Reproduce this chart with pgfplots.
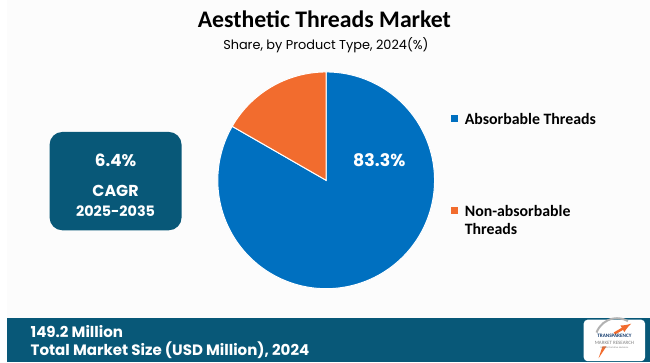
\documentclass[border=0pt]{standalone}
\usepackage{pgfplots}
\pgfplotsset{compat=1.18}
\usepackage{pgfplotstable}
\usepackage{fontspec}
\setmainfont{Carlito}
\newfontfamily\gothic{Poppins}
\definecolor{pieblue}{RGB}{0,112,192}
\definecolor{pieorange}{RGB}{242,108,46}
\definecolor{banner}{RGB}{8,88,120}
\definecolor{bgcol}{RGB}{252,252,252}
\definecolor{logoblue}{RGB}{20,60,110}

\pgfplotstableread{
segment share
Absorbable 83.3
NonAbsorbable 16.7
}\piedata

\begin{document}
\pgfplotstablegetelem{0}{share}\of\piedata
\pgfmathsetmacro\sA{\pgfplotsretval}
\pgfmathsetmacro\cut{90-3.6*\sA}
\pgfmathsetmacro\cutB{\cut+360}
\begin{tikzpicture}
\fill[bgcol] (0,0) rectangle (650bp,366bp);
% title
\node[anchor=base, font=\bfseries\fontsize{24bp}{28bp}\selectfont, inner sep=0pt] at (321bp,338.7bp) {Aesthetic Threads Market};
\node[anchor=base, font=\gothic\fontsize{13bp}{15bp}\selectfont, inner sep=0pt] at (322.5bp,316bp) {Share, by Product Type, 2024(\%)};
% pie
\begin{axis}[at={(322.8bp,183.8bp)}, anchor=center, scale only axis,
  width=219bp, height=219bp, xmin=-1, xmax=1, ymin=-1, ymax=1,
  hide axis, clip=false]
\addplot[fill=pieblue, draw=white, line width=1bp, domain=\cut:90, samples=200, variable=\t]
  ({cos(\t)},{sin(\t)}) -- (axis cs:0,0) -- cycle;
\addplot[fill=pieorange, draw=white, line width=1bp, domain=90:\cutB, samples=60, variable=\t]
  ({cos(\t)},{sin(\t)}) -- (axis cs:0,0) -- cycle;
\node[text=white, font=\gothic\bfseries\fontsize{17.5bp}{20bp}\selectfont] at (axis cs:0.49,0.19) {83.3\%};
\end{axis}
% legend
\fill[pieblue] (449.2bp,242.5bp) rectangle (456.2bp,249.5bp);
\node[anchor=west, font=\bfseries\fontsize{16bp}{19bp}\selectfont, inner sep=0pt] at (462.7bp,246bp) {Absorbable Threads};
\fill[pieorange] (449.2bp,150.2bp) rectangle (456.2bp,157.2bp);
\node[anchor=west, font=\bfseries\fontsize{16bp}{19bp}\selectfont, inner sep=0pt] at (462.7bp,153.3bp) {Non-absorbable};
\node[anchor=west, font=\bfseries\fontsize{16bp}{19bp}\selectfont, inner sep=0pt] at (462.7bp,134.3bp) {Threads};
% CAGR box
\fill[banner, rounded corners=13bp] (43.3bp,133.3bp) rectangle (176.7bp,232.7bp);
\node[text=white, font=\gothic\bfseries\fontsize{17bp}{20bp}\selectfont] at (110bp,204.3bp) {6.4\%};
\node[text=white, font=\gothic\bfseries\fontsize{16bp}{19bp}\selectfont] at (110bp,173.3bp) {CAGR};
\node[text=white, font=\gothic\bfseries\fontsize{14.5bp}{18bp}\selectfont] at (110bp,152.7bp) {2025-2035};
% bottom banner
\fill[banner] (0,0) rectangle (650bp,45bp);
\node[anchor=base west, text=white, font=\gothic\bfseries\fontsize{15.2bp}{18bp}\selectfont, inner sep=0pt] at (24bp,25.3bp) {149.2 Million};
\node[anchor=base west, text=white, font=\gothic\bfseries\fontsize{15.2bp}{18bp}\selectfont, inner sep=0pt] at (24bp,7bp) {Total Market Size (USD Million), 2024};
% logo
\fill[white, rounded corners=4bp] (583bp,1bp) rectangle (645bp,43bp);
\draw[gray!60, line width=2bp] (596bp,30bp) arc (160:60:22bp);
\fill[pieorange] (598bp,4bp) -- (606bp,16bp) -- (602bp,16bp) -- cycle;
\draw[pieorange, line width=2.5bp, -{latex}] (614bp,29bp) -- (631bp,39bp);
\node[font=\bfseries\fontsize{5.2bp}{6bp}\selectfont, text=logoblue, inner sep=0pt] at (614bp,26.7bp) {TRANSPARENCY};
\node[font=\fontsize{5bp}{6bp}\selectfont, text=gray, inner sep=0pt] at (614bp,20bp) {MARKET RESEARCH};
\node[font=\fontsize{2.5bp}{3bp}\selectfont, text=gray, inner sep=0pt] at (614bp,15bp) {Insights that drive decisions};
\end{tikzpicture}
\end{document}
